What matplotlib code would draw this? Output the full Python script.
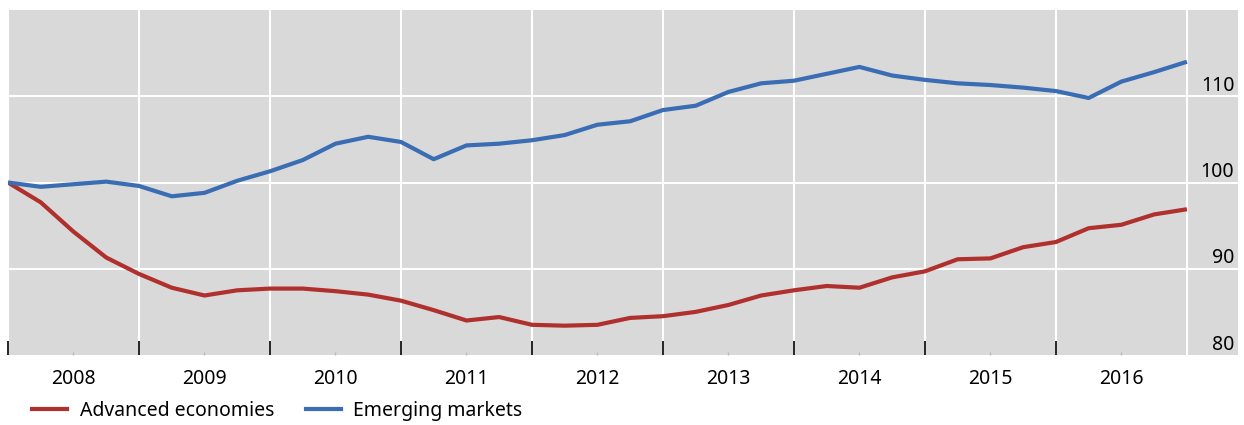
import numpy as np
import matplotlib.pyplot as plt
from matplotlib.lines import Line2D
from matplotlib.ticker import FixedLocator

plt.rcParams["font.family"] = ["Noto Sans", "DejaVu Sans"]

# quarterly index values, 2008 = 100
quarters = 2008 + np.arange(37) / 4
advanced = [100.0, 97.7, 94.3, 91.3, 89.4, 87.8, 86.9, 87.5, 87.7, 87.7,
            87.4, 87.0, 86.3, 85.2, 84.0, 84.4, 83.5, 83.4, 83.5, 84.3,
            84.5, 85.0, 85.8, 86.9, 87.5, 88.0, 87.8, 89.0, 89.7, 91.1,
            91.2, 92.5, 93.1, 94.7, 95.1, 96.3, 96.9]
emerging = [100.0, 99.5, 99.8, 100.1, 99.6, 98.4, 98.8, 100.2, 101.3, 102.6,
            104.5, 105.3, 104.7, 102.7, 104.3, 104.5, 104.9, 105.5, 106.7, 107.1,
            108.4, 108.9, 110.5, 111.5, 111.8, 112.6, 113.4, 112.4, 111.9, 111.5,
            111.3, 111.0, 110.6, 109.8, 111.7, 112.8, 114.0]
years = list(range(2008, 2017))
y_labels = [80, 90, 100, 110]

red = "#B0302E"
blue = "#3A6DB3"

fig = plt.figure(figsize=(12.44, 4.25), dpi=100)
ax = fig.add_axes([8 / 1244, 70 / 425, 1230 / 1244, 345 / 425])
ax.set_facecolor("#D9D9D9")

ax.plot(quarters, advanced, color=red, lw=3, solid_capstyle="butt", zorder=3)
ax.plot(quarters, emerging, color=blue, lw=3, solid_capstyle="butt", zorder=3)

ax.set_xlim(2008, 2017.39)
ax.set_ylim(80, 120)

for yr in range(2008, 2018):
    ax.axvline(yr, color="white", lw=1.5, zorder=1)
for v in [90, 100, 110]:
    ax.axhline(v, color="white", lw=1.5, zorder=1)

for s in ax.spines.values():
    s.set_visible(False)

ax.xaxis.set_major_locator(FixedLocator(range(2008, 2017)))
ax.xaxis.set_minor_locator(FixedLocator([y + 0.5 for y in years]))
ax.set_xticklabels([])
ax.set_xticklabels([str(y) for y in years], minor=True)
ax.tick_params(axis="x", which="major", direction="in", length=10, width=1.2, color="black")
ax.tick_params(axis="x", which="minor", direction="in", length=2, width=1, color="#BBBBBB",
               labelsize=14, pad=10)
ax.set_yticks([])

for v in y_labels:
    ax.text(0.997, v + 0.05, str(v), transform=ax.get_yaxis_transform(),
            ha="right", va="bottom", fontsize=14, color="black")

handles = [Line2D([], [], color=red, lw=3), Line2D([], [], color=blue, lw=3)]
fig.legend(handles, ["Advanced economies", "Emerging markets"], loc="center left",
           bbox_to_anchor=(0.012, 0.033), ncol=2, frameon=False, fontsize=14,
           handlelength=1.8, handletextpad=0.65, columnspacing=1.6)

fig.savefig("out.png", dpi=100)
